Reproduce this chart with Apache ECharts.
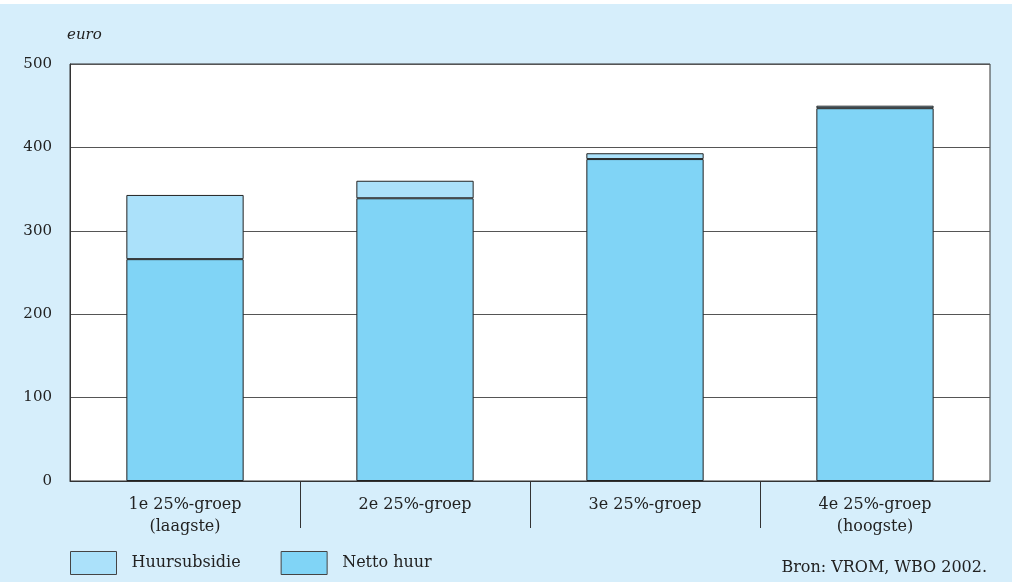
<!DOCTYPE html>
<html>
<head>
<meta charset="utf-8">
<script src="https://cdn.jsdelivr.net/npm/echarts@6/dist/echarts.min.js"></script>
<style>
  html, body { margin: 0; padding: 0; background: #fff; }
  #chart { width: 1012px; height: 582px; }
</style>
</head>
<body>
<div id="chart"></div>
<script>
const categories = ['1e 25%-groep\n(laagste)', '2e 25%-groep', '3e 25%-groep', '4e 25%-groep\n(hoogste)'];
const nettoHuur = [266, 339, 386, 447];
const huursubsidie = [77, 21, 7, 3];
const separatorTicks = [1, 2, 3];

const serif = '"DejaVu Serif", "Liberation Serif", serif';
const chart = echarts.init(document.getElementById('chart'));

const option = {
  backgroundColor: '#d6eefb',
  animation: false,
  textStyle: { fontFamily: serif, color: '#222' },
  graphic: [{
    type: 'rect',
    left: 0, top: 0,
    shape: { width: 1012, height: 4 },
    style: { fill: '#ffffff' }
  }],
  title: [{
    text: 'euro',
    left: 62, top: 23,
    textStyle: { fontFamily: serif, fontStyle: 'italic', fontWeight: 'normal', fontSize: 15, color: '#222' }
  }, {
    text: 'Bron: VROM, WBO 2002.',
    right: 20, top: 555,
    textStyle: { fontFamily: serif, fontWeight: 'normal', fontSize: 16, color: '#222' }
  }],
  legend: {
    data: ['Huursubsidie', 'Netto huur'],
    left: 65, top: 546,
    icon: 'rect',
    itemWidth: 46, itemHeight: 23,
    itemGap: 40,
    itemStyle: { borderColor: '#444', borderWidth: 1 },
    textStyle: { fontFamily: serif, fontSize: 16, color: '#222', padding: [6, 0, 0, 10] }
  },
  grid: {
    left: 70, right: 22, top: 64, bottom: 101,
    show: true,
    backgroundColor: '#ffffff',
    borderColor: '#333',
    borderWidth: 1
  },
  xAxis: [{
    type: 'category',
    data: categories,
    axisLine: { lineStyle: { color: '#333', width: 1 } },
    axisTick: { show: false },
    axisLabel: { fontFamily: serif, fontSize: 16, color: '#222', lineHeight: 22, margin: 13 }
  }, {
    type: 'value',
    min: 0, max: 4,
    position: 'bottom',
    axisLine: { show: false },
    axisLabel: { show: false },
    splitLine: { show: false },
    axisTick: { show: true, customValues: separatorTicks, length: 47, lineStyle: { color: '#333', width: 1 } }
  }],
  yAxis: {
    type: 'value',
    min: 0, max: 500, interval: 100,
    axisLine: { show: true, lineStyle: { color: '#333' } },
    axisTick: { show: false },
    axisLabel: { fontFamily: serif, fontSize: 15, color: '#222', margin: 18 },
    splitLine: { lineStyle: { color: '#555', width: 1 } }
  },
  series: [{
    name: 'Netto huur',
    type: 'bar',
    stack: 'huur',
    xAxisIndex: 0,
    barWidth: '51%',
    data: nettoHuur,
    itemStyle: { color: '#80d4f6', borderColor: '#222', borderWidth: 1 }
  }, {
    name: 'Huursubsidie',
    type: 'bar',
    stack: 'huur',
    xAxisIndex: 0,
    data: huursubsidie,
    itemStyle: { color: '#abe1fa', borderColor: '#222', borderWidth: 1 }
  }]
};
chart.setOption(option);
</script>
</body>
</html>
